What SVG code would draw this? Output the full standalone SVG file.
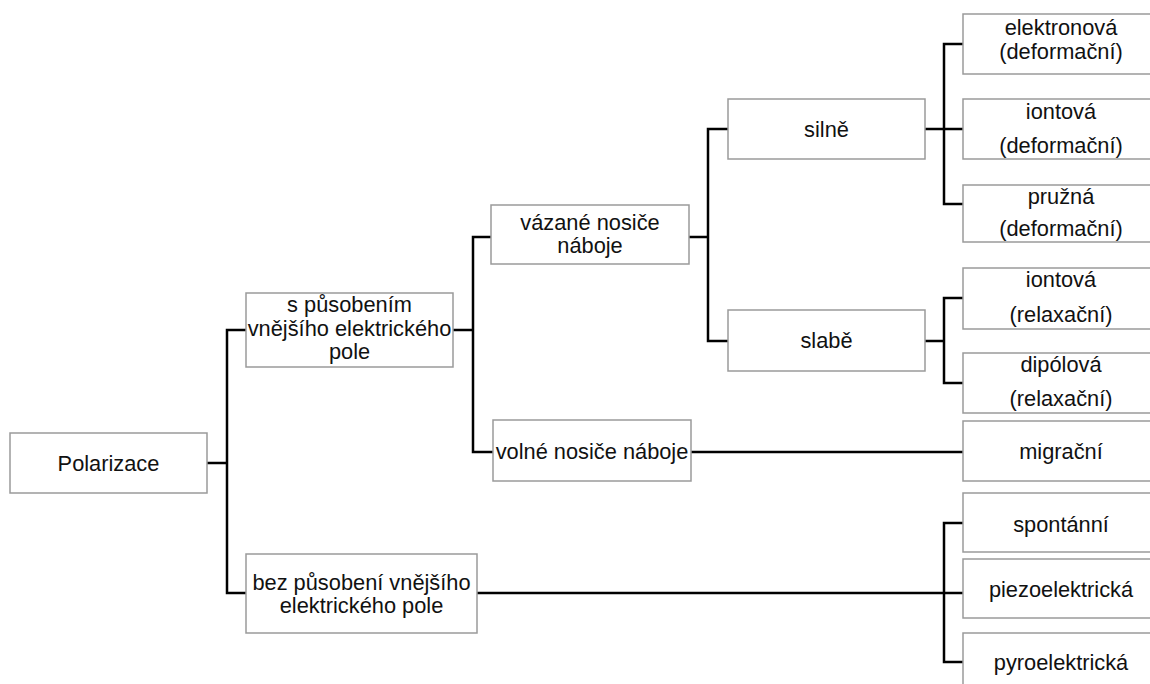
<svg xmlns="http://www.w3.org/2000/svg" width="1150" height="684" viewBox="0 0 1150 684">
  <style>
    .box { fill: #ffffff; stroke: #9a9a9a; stroke-width: 1.5; }
    .lbl { font-family: "Liberation Sans", Arial, sans-serif; font-size: 21.8px; fill: #111111; text-anchor: middle; }
    .wire { fill: none; stroke: #000000; stroke-width: 2.5; stroke-linejoin: miter; stroke-linecap: square; }
  </style>
  <rect width="1150" height="684" fill="#ffffff"/>

  <!-- tree connectors -->
  <g id="connectors">
    <path class="wire" d="M207,463 H227 M227,330 V593 M227,330 H246 M227,593 H246"/>
    <path class="wire" d="M453,330 H473 M473,237 V452 M473,237 H491 M473,452 H493"/>
    <path class="wire" d="M689,237 H708 M708,129 V341 M708,129 H728 M708,341 H728"/>
    <path class="wire" d="M925,129 H963 M944,44 V204 M944,44 H963 M944,204 H963"/>
    <path class="wire" d="M925,341 H944 M944,298 V383 M944,298 H963 M944,383 H963"/>
    <path class="wire" d="M691,452 H963"/>
    <path class="wire" d="M477,593 H963 M944,523 V662 M944,523 H963 M944,662 H963"/>
  </g>

  <g id="polarizace">
    <rect class="box" x="10" y="433" width="197" height="60"/>
    <text class="lbl" x="108.5" y="471">Polarizace</text>
  </g>

  <g id="s-pusobenim">
    <rect class="box" x="246" y="293" width="207" height="74"/>
    <text class="lbl" x="349.5" y="312">s působením</text>
    <text class="lbl" x="349.5" y="336">vnějšího elektrického</text>
    <text class="lbl" x="349.5" y="359">pole</text>
  </g>

  <g id="bez-pusobeni">
    <rect class="box" x="246" y="554" width="231" height="79"/>
    <text class="lbl" x="361.5" y="590">bez působení vnějšího</text>
    <text class="lbl" x="361.5" y="613">elektrického pole</text>
  </g>

  <g id="vazane">
    <rect class="box" x="491" y="205" width="198" height="59"/>
    <text class="lbl" x="590" y="230">vázané nosiče</text>
    <text class="lbl" x="590" y="253">náboje</text>
  </g>

  <g id="volne">
    <rect class="box" x="493" y="420" width="198" height="61"/>
    <text class="lbl" x="592" y="459">volné nosiče náboje</text>
  </g>

  <g id="silne">
    <rect class="box" x="728" y="99" width="197" height="60"/>
    <text class="lbl" x="826.5" y="137">silně</text>
  </g>

  <g id="slabe">
    <rect class="box" x="728" y="310" width="197" height="61"/>
    <text class="lbl" x="826.5" y="348">slabě</text>
  </g>

  <g id="elektronova">
    <rect class="box" x="963" y="14" width="196" height="60"/>
    <text class="lbl" x="1061" y="35">elektronová</text>
    <text class="lbl" x="1061" y="59">(deformační)</text>
  </g>

  <g id="iontova-deformacni">
    <rect class="box" x="963" y="99" width="196" height="60"/>
    <text class="lbl" x="1061" y="119">iontová</text>
    <text class="lbl" x="1061" y="153">(deformační)</text>
  </g>

  <g id="pruzna">
    <rect class="box" x="963" y="185" width="196" height="57"/>
    <text class="lbl" x="1061" y="204">pružná</text>
    <text class="lbl" x="1061" y="236">(deformační)</text>
  </g>

  <g id="iontova-relaxacni">
    <rect class="box" x="963" y="268" width="196" height="61"/>
    <text class="lbl" x="1061" y="287">iontová</text>
    <text class="lbl" x="1061" y="322">(relaxační)</text>
  </g>

  <g id="dipolova">
    <rect class="box" x="963" y="353" width="196" height="60"/>
    <text class="lbl" x="1061" y="372">dipólová</text>
    <text class="lbl" x="1061" y="406">(relaxační)</text>
  </g>

  <g id="migracni">
    <rect class="box" x="963" y="421" width="196" height="60"/>
    <text class="lbl" x="1061" y="459">migrační</text>
  </g>

  <g id="spontanni">
    <rect class="box" x="963" y="493" width="196" height="59"/>
    <text class="lbl" x="1061" y="532">spontánní</text>
  </g>

  <g id="piezoelektricka">
    <rect class="box" x="963" y="559" width="196" height="59"/>
    <text class="lbl" x="1061" y="597">piezoelektrická</text>
  </g>

  <g id="pyroelektricka">
    <rect class="box" x="963" y="633" width="196" height="60"/>
    <text class="lbl" x="1061" y="670">pyroelektrická</text>
  </g>
</svg>
